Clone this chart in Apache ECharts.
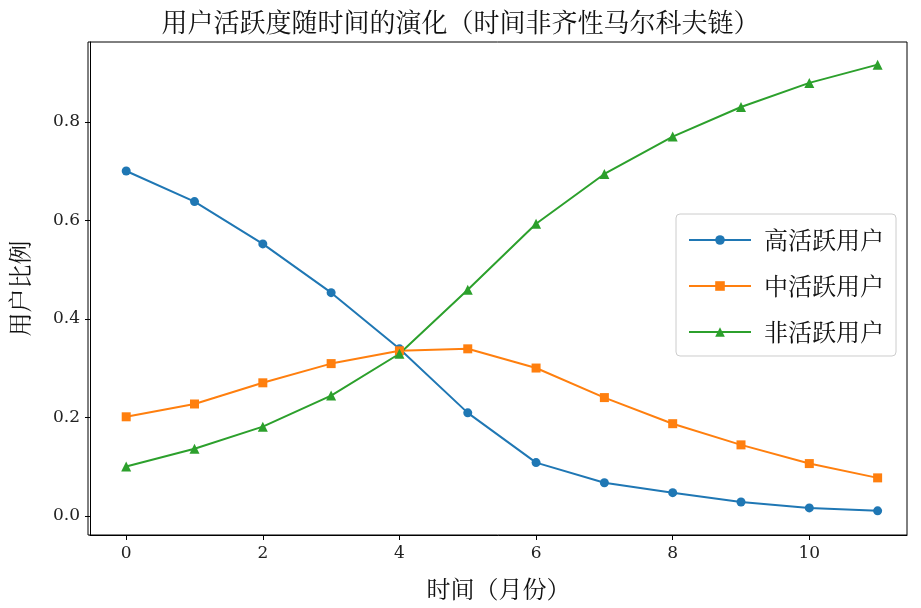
<!DOCTYPE html>
<html>
<head>
<meta charset="utf-8">
<script src="https://cdn.jsdelivr.net/npm/echarts@6/dist/echarts.min.js"></script>
<style>html,body{margin:0;padding:0;background:#fff}</style>
</head>
<body>
<div id="main" style="width:921px;height:608px"></div>
<script>
let months = [0, 1, 2, 3, 4, 5, 6, 7, 8, 9, 10, 11];
let highActive = [0.700, 0.638, 0.552, 0.453, 0.339, 0.209, 0.108, 0.067, 0.047, 0.028, 0.016, 0.010];
let midActive = [0.201, 0.227, 0.270, 0.309, 0.335, 0.339, 0.300, 0.240, 0.187, 0.144, 0.106, 0.077];
let inactive = [0.100, 0.136, 0.181, 0.244, 0.329, 0.459, 0.593, 0.694, 0.770, 0.830, 0.879, 0.916];
let xTicks = [0, 2, 4, 6, 8, 10];
let yTicks = [0, 0.2, 0.4, 0.6, 0.8];

let font = 'DejaVu Serif, "Noto Sans CJK SC"';
let cjk = '"Noto Serif CJK SC", "Noto Sans CJK SC"';

function pairs(arr) {
    return months.map(function (m, i) { return [m, arr[i]]; });
}

let chart = echarts.init(document.getElementById('main'));
chart.setOption({
    animation: false,
    title: {
        text: '用户活跃度随时间的演化（时间非齐性马尔科夫链）',
        left: 'center', top: 4,
        textStyle: {fontFamily: cjk, fontSize: 26, fontWeight: 'normal', color: '#111'}
    },
    grid: {left: 88, right: 14, top: 42, bottom: 73},
    legend: {
        orient: 'vertical', right: 25, top: 214,
        itemWidth: 62, itemHeight: 12, itemGap: 22,
        padding: [14, 12, 12, 12],
        borderColor: '#ccc', borderWidth: 1, borderRadius: 4,
        backgroundColor: 'rgba(255,255,255,0.85)',
        textStyle: {fontFamily: cjk, fontSize: 24, color: '#111', padding: [0, 0, 0, 8]},
        data: ['高活跃用户', '中活跃用户', '非活跃用户']
    },
    xAxis: {
        type: 'value', min: -0.53, max: 11.43,
        name: '时间（月份）', nameLocation: 'middle', nameGap: 42,
        nameTextStyle: {fontFamily: cjk, fontSize: 24, color: '#111'},
        axisLine: {onZero: false, lineStyle: {color: '#000'}},
        axisTick: {customValues: xTicks, length: 5, lineStyle: {color: '#000'}},
        axisLabel: {customValues: xTicks, fontFamily: font, fontSize: 17, color: '#222', margin: 10},
        splitLine: {show: false}
    },
    yAxis: {
        type: 'value', min: -0.039, max: 0.962,
        name: '用户比例', nameLocation: 'middle', nameGap: 58,
        nameTextStyle: {fontFamily: cjk, fontSize: 24, color: '#111'},
        axisLine: {show: true, onZero: false, lineStyle: {color: '#000'}},
        axisTick: {show: true, customValues: yTicks, length: 5, lineStyle: {color: '#000'}},
        axisLabel: {customValues: yTicks, fontFamily: font, fontSize: 17, color: '#222', margin: 10,
            formatter: function (v) { return v.toFixed(1); }},
        splitLine: {show: false}
    },
    series: [
        {name: '高活跃用户', type: 'line', data: pairs(highActive), symbol: 'circle', symbolSize: 9,
            color: '#1f77b4', lineStyle: {width: 2}},
        {name: '中活跃用户', type: 'line', data: pairs(midActive), symbol: 'rect', symbolSize: 9,
            color: '#ff7f0e', lineStyle: {width: 2}},
        {name: '非活跃用户', type: 'line', data: pairs(inactive), symbol: 'triangle', symbolSize: 10,
            color: '#2ca02c', lineStyle: {width: 2}}
    ],
    // 右侧和上侧边框
    graphic: [{type: 'rect', shape: {x: 88, y: 42, width: 819, height: 493},
        style: {fill: 'none', stroke: '#000', lineWidth: 1}, silent: true}]
});
</script>
</body>
</html>
